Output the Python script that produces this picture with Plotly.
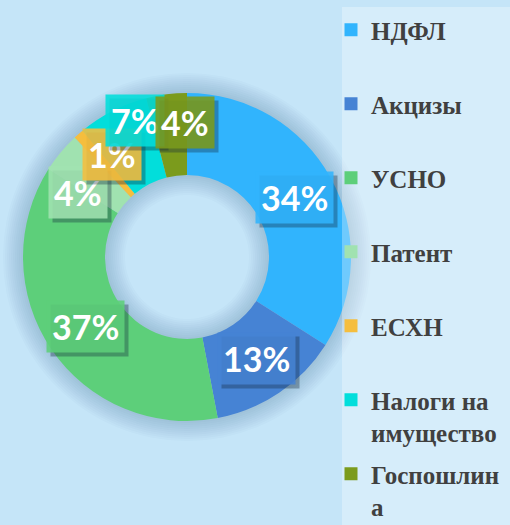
import math
import plotly.graph_objects as go

# tax revenue structure, percent
labels = ["НДФЛ", "Акцизы", "УСНО", "Патент", "ЕСХН", "Налоги на<br>имущество", "Госпошлин<br>а"]
values = [34, 13, 37, 4, 1, 7, 4]
colors = ["#31b4fd", "#4683d4", "#5dcf7a", "#a0e2b0", "#f5be3e", "#02dedb", "#7b9b1c"]

# label nudges for the crowded small slices (px)
nudge = [(0, 0), (0, 0), (0, 0), (-14, -14), (6, 10), (4, 27), (13, 12)]

W, H = 510, 525
cx_px, cy_px, R = 187, 257, 164
BG = "#c5e5f8"


def domain(r):
    return dict(x=[(cx_px - r) / W, (cx_px + r) / W],
                y=[(H - cy_px - r) / H, (H - cy_px + r) / H])


def hex_rgba(h, a):
    h = h.lstrip("#")
    return "rgba(%d,%d,%d,%s)" % (int(h[0:2], 16), int(h[2:4], 16), int(h[4:6], 16), a)


fig = go.Figure()

# soft shadow around the ring (outer edge and inside the hole)
for k in range(20, 0, -2):
    fig.add_trace(go.Pie(
        values=[1], labels=["halo"], hole=(R / 2 - k) / (R + k), sort=False,
        marker=dict(colors=["rgba(40,90,130,0.025)"], line=dict(width=0)),
        textinfo="none", domain=domain(R + k), hoverinfo="skip", showlegend=False,
    ))

fig.add_trace(go.Pie(
    labels=[l.replace("<br>", " ") for l in labels], values=values, hole=0.5, sort=False,
    direction="clockwise", rotation=0,
    marker=dict(colors=colors, line=dict(width=0)),
    textinfo="none", domain=domain(R), showlegend=False,
    hovertemplate="%{label}: %{value}%<extra></extra>",
))

# legend entries, one group each so the spacing can be set
for l, c in zip(labels, colors):
    name = l if "<br>" in l else l + "<br>\u00a0"
    fig.add_trace(go.Scatter(
        x=[None], y=[None], mode="markers", name=name, legendgroup=l,
        marker=dict(symbol="square", size=13, color=c),
    ))

total = sum(values)
cum = 0
cxp, cyp = (cx_px) / W, (H - cy_px) / H
rmid = R * 0.75
for v, c, (nx, ny) in zip(values, colors, nudge):
    ang = (cum + v / 2) / total * 2 * math.pi
    cum += v
    x = cxp + rmid * math.sin(ang) / W
    y = cyp + rmid * math.cos(ang) / H
    txt = "%d%%" % round(v / total * 100)
    fnt = dict(family="Lato", size=34, weight="bold")
    # shadow
    fig.add_annotation(x=x, y=y, xref="paper", yref="paper", text=txt, showarrow=False,
                       xanchor="center", yanchor="middle",
                       font=dict(fnt, color="rgba(0,0,0,0)"),
                       bgcolor="rgba(20,40,60,0.35)", borderpad=5,
                       xshift=nx + 4, yshift=ny - 4)
    fig.add_annotation(x=x, y=y, xref="paper", yref="paper", text=txt, showarrow=False,
                       xanchor="center", yanchor="middle",
                       font=dict(fnt, color="white"),
                       bgcolor=hex_rgba(c, 0.88), borderpad=5,
                       xshift=nx, yshift=ny)

# legend panel
fig.add_shape(type="rect", xref="paper", yref="paper", x0=342 / W, x1=1.01,
              y0=-0.01, y1=1 - 7 / H, fillcolor="rgba(255,255,255,0.3)",
              line=dict(width=0), layer="above")

fig.update_layout(
    width=W, height=H,
    margin=dict(l=0, r=0, t=0, b=0, autoexpand=False),
    paper_bgcolor=BG, plot_bgcolor=BG,
    xaxis=dict(visible=False), yaxis=dict(visible=False),
    showlegend=True,
    legend=dict(
        x=331 / W, y=1 - 7 / H,
        xanchor="left", yanchor="top", valign="top",
        bgcolor="rgba(0,0,0,0)", borderwidth=0,
        font=dict(family="Liberation Serif", size=25, color="#404040", weight="bold"),
        tracegroupgap=6, maxheight=600,
    ),
)

fig.write_html("out.html", config={"displayModeBar": False},
               post_script="document.body.style.margin='0';")
